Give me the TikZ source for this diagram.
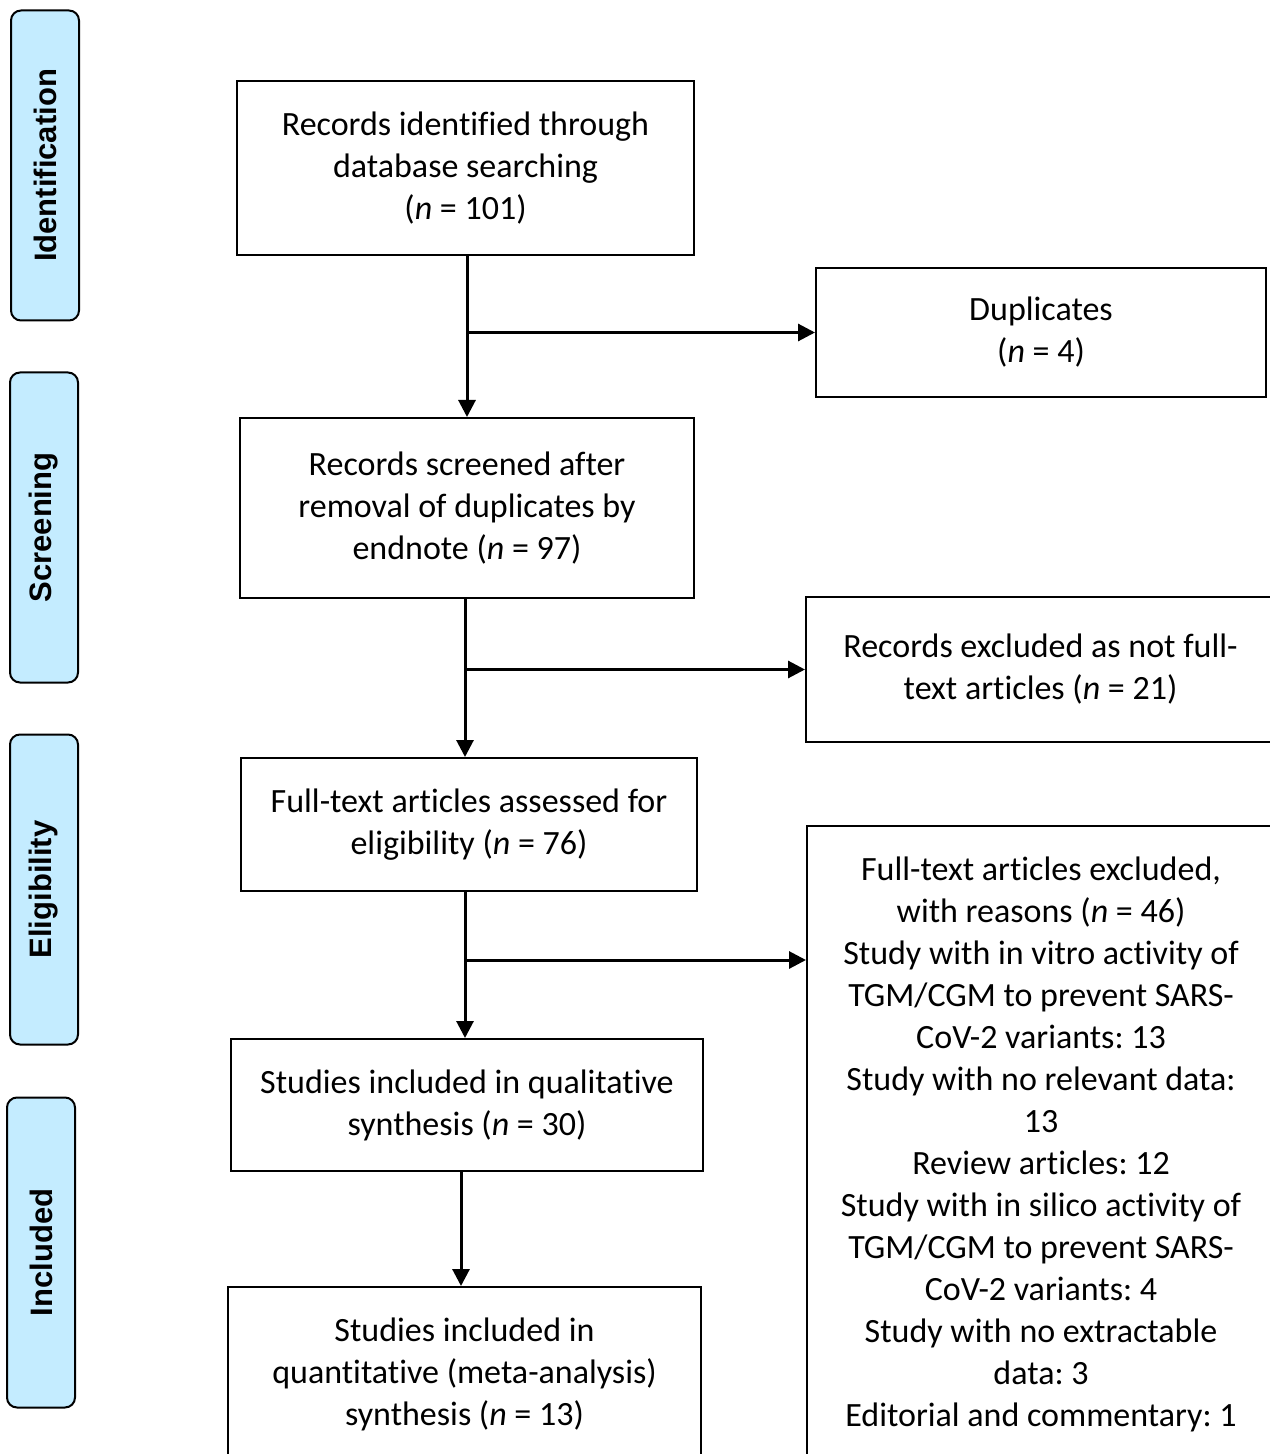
\documentclass[tikz,border=0pt]{standalone}
\usepackage{fontspec}
\setmainfont{Carlito}[Ligatures={NoCommon}]
\newfontfamily\phasefont{Liberation Sans}
\usetikzlibrary{arrows.meta}
\definecolor{phaseblue}{RGB}{196,236,255}
\frenchspacing
\begin{document}
\begin{tikzpicture}[x=0.5pt,y=-0.5pt,
  box/.style={draw,line width=1pt,align=center,inner sep=0pt,font=\fontsize{17}{21}\selectfont},
  phase/.style={draw,line width=1pt,fill=phaseblue,rounded corners=5pt,rotate=90,minimum width=155pt,minimum height=34pt,inner sep=0pt,font=\phasefont\bfseries\fontsize{15.5}{18}\selectfont},
  arr/.style={line width=1.5pt,-{Triangle[length=8.5pt,width=8.5pt]}}]
\useasboundingbox (0,0) rectangle (1269,1454);
% phases
\foreach \x/\y/\t in {45/165.5/Identification,44/527.5/Screening,44/889.5/Eligibility,41/1252.5/Included}
{
\node[phase] (ph\t) at (\x,\y) {\t};
}
% main column
\node[box,minimum width=228.5pt,minimum height=87pt] (identified) at (465.5,168) {Records identified through\\database searching\\(\textit{n} = 101)};
\node[box,minimum width=227pt,minimum height=90pt] (screened) at (467,508) {Records screened after\\removal of duplicates by\\endnote (\textit{n} = 97)};
\node[box,minimum width=228pt,minimum height=66.5pt] (assessed) at (469,824.5) {Full-text articles assessed for\\eligibility (\textit{n} = 76)};
\node[box,minimum width=236pt,minimum height=66pt] (qualitative) at (467,1105) {Studies included in qualitative\\synthesis (\textit{n} = 30)};
\node[box,minimum width=236.5pt,minimum height=87.5pt] (quantitative) at (464.5,1374.5) {Studies included in\\quantitative (meta-analysis)\\synthesis (\textit{n} = 13)};
% right column
\node[box,minimum width=225pt,minimum height=64.5pt] (duplicates) at (1041,332.5) {Duplicates\\(\textit{n} = 4)};
\node[box,minimum width=234.5pt,minimum height=72.5pt] (notfull) at (1040.5,669.5) {Records excluded as not full-\\text articles (\textit{n} = 21)};
\node[box,minimum width=234pt,minimum height=318pt] (excluded) at (1041,1144) {Full-text articles excluded,\\with reasons (\textit{n} = 46)\\Study with in vitro activity of\\TGM/CGM to prevent SARS-\\CoV-2 variants: 13\\Study with no relevant data:\\13\\Review articles: 12\\Study with in silico activity of\\TGM/CGM to prevent SARS-\\CoV-2 variants: 4\\Study with no extractable\\data: 3\\Editorial and commentary: 1};
% arrows
\coordinate (d1) at (467,255);
\coordinate (d2) at (465,598);
\coordinate (d3) at (465,891);
\coordinate (d4) at (461,1171);
\coordinate (b3) at (465,960);
\draw[arr] (d1) -- (d1 |- screened.north);
\draw[arr] (d1 |- duplicates.west) -- (duplicates.west);
\draw[arr] (d2) -- (d2 |- assessed.north);
\draw[arr] (d2 |- notfull.west) -- (notfull.west);
\draw[arr] (d3) -- (d3 |- qualitative.north);
\draw[arr] (b3) -- (b3 -| excluded.west);
\draw[arr] (d4) -- (d4 |- quantitative.north);
\end{tikzpicture}
\end{document}
